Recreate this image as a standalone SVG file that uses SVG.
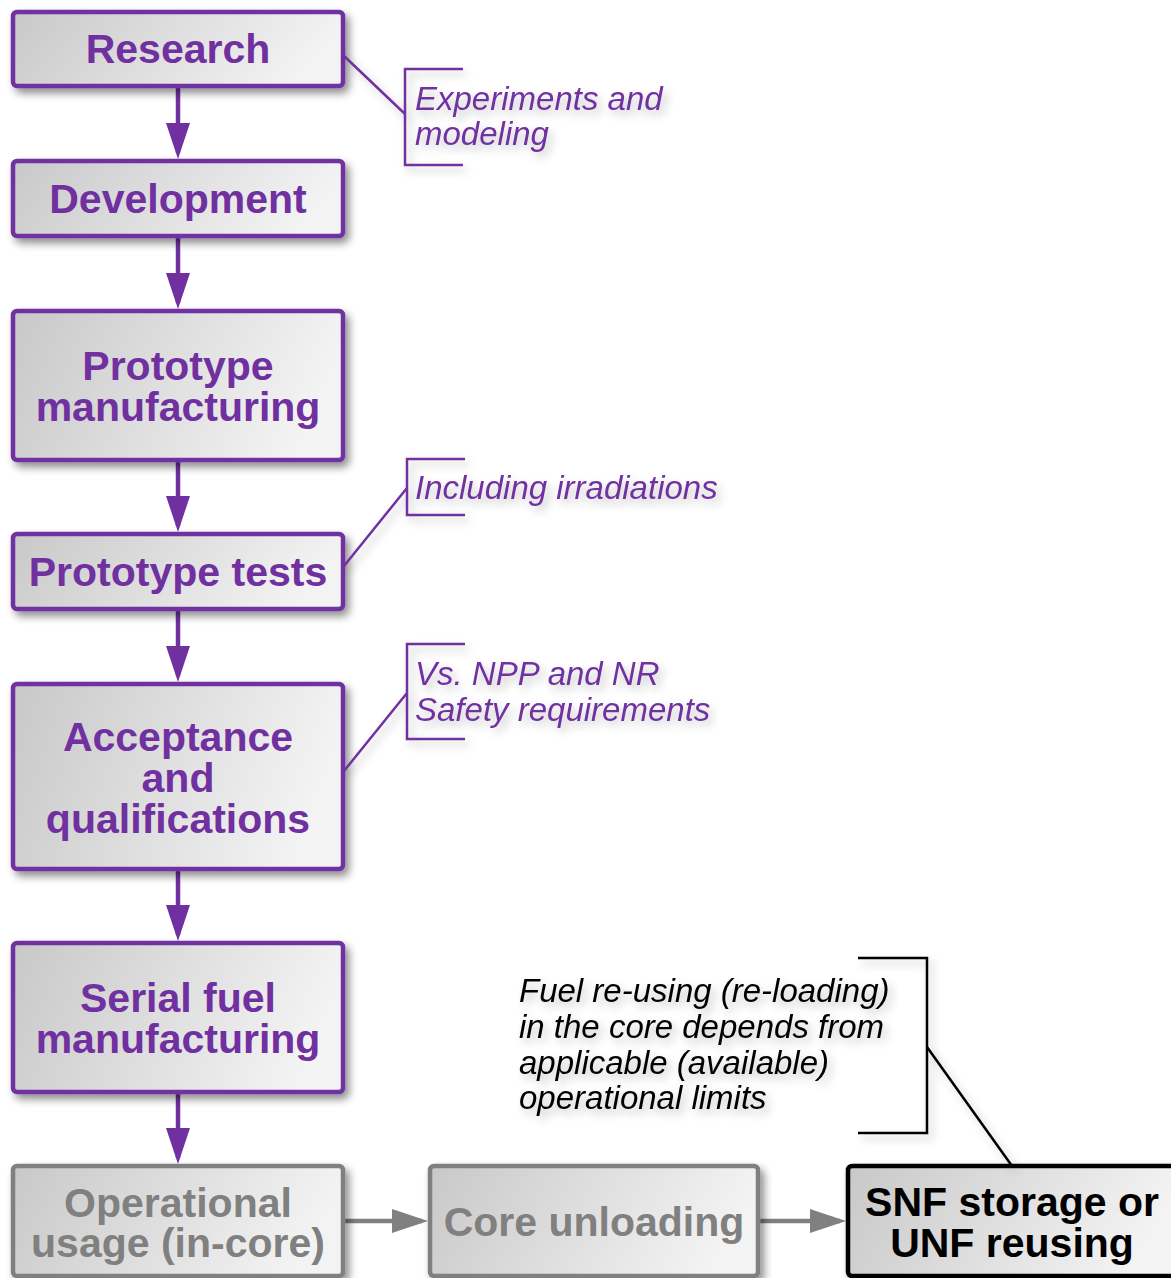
<svg xmlns="http://www.w3.org/2000/svg" width="1171" height="1278" viewBox="0 0 1171 1278">
<style>
.box{stroke-width:4.5;fill:url(#g);filter:url(#sh)}
.p{stroke:#7030a0}
.gr{stroke:#808080}
.bk{stroke:#000}
.t{font-family:"Liberation Sans",Arial,sans-serif;font-weight:bold;font-size:41px;text-anchor:middle}
.tp{fill:#7030a0}
.tg{fill:#808080}
.tb{fill:#000}
.n{font-family:"Liberation Sans",Arial,sans-serif;font-style:italic;font-size:33px}
.br{fill:none;stroke-width:2.5}
.ca{fill:none;stroke-width:4.5}
</style>
<defs>
<linearGradient id="g" x1="0" y1="0" x2="1" y2="0.2">
<stop offset="0" stop-color="#c8c8c8"/>
<stop offset="1" stop-color="#f3f3f3"/>
</linearGradient>
<filter id="sh" x="-10%" y="-20%" width="130%" height="150%">
<feGaussianBlur in="SourceAlpha" stdDeviation="4"/>
<feOffset dx="4" dy="5" result="b"/>
<feComponentTransfer><feFuncA type="linear" slope="0.45"/></feComponentTransfer>
<feMerge><feMergeNode/><feMergeNode in="SourceGraphic"/></feMerge>
</filter>
<filter id="sh2" x="-10%" y="-20%" width="130%" height="150%">
<feGaussianBlur in="SourceAlpha" stdDeviation="5"/>
<feOffset dx="4" dy="5" result="b"/>
<feComponentTransfer><feFuncA type="linear" slope="0.25"/></feComponentTransfer>
<feMerge><feMergeNode/><feMergeNode in="SourceGraphic"/></feMerge>
</filter>
<marker id="ap" markerUnits="userSpaceOnUse" viewBox="0 0 36 24" markerWidth="36" markerHeight="24" refX="30" refY="12" orient="auto">
<path d="M0,0 L36,12 L0,24 Z" fill="#7030a0"/>
</marker>
<marker id="ag" markerUnits="userSpaceOnUse" viewBox="0 0 36 24" markerWidth="36" markerHeight="24" refX="30" refY="12" orient="auto">
<path d="M0,0 L36,12 L0,24 Z" fill="#808080"/>
</marker>
</defs>
<rect width="1171" height="1278" fill="#fff"/>

<g id="connectors">
<line class="ca p" x1="178" y1="88" x2="178" y2="153" marker-end="url(#ap)"/>
<line class="ca p" x1="178" y1="238" x2="178" y2="303" marker-end="url(#ap)"/>
<line class="ca p" x1="178" y1="462" x2="178" y2="526" marker-end="url(#ap)"/>
<line class="ca p" x1="178" y1="611" x2="178" y2="676" marker-end="url(#ap)"/>
<line class="ca p" x1="178" y1="871" x2="178" y2="935" marker-end="url(#ap)"/>
<line class="ca p" x1="178" y1="1094" x2="178" y2="1158" marker-end="url(#ap)"/>
<line class="ca gr" x1="345" y1="1221" x2="422" y2="1221" marker-end="url(#ag)"/>
<line class="ca gr" x1="760" y1="1221" x2="840" y2="1221" marker-end="url(#ag)"/>
</g>

<g id="research">
<rect class="box p" x="13" y="12" width="330" height="74" rx="4"/>
<text class="t tp" x="178" y="63">Research</text>
</g>
<g id="development">
<rect class="box p" x="13" y="161" width="330" height="75" rx="4"/>
<text class="t tp" x="178" y="213">Development</text>
</g>
<g id="prototype-manufacturing">
<rect class="box p" x="13" y="311" width="330" height="149" rx="4"/>
<text class="t tp" x="178" y="380">Prototype</text>
<text class="t tp" x="178" y="421">manufacturing</text>
</g>
<g id="prototype-tests">
<rect class="box p" x="13" y="534" width="330" height="75" rx="4"/>
<text class="t tp" x="178" y="586">Prototype tests</text>
</g>
<g id="acceptance">
<rect class="box p" x="13" y="684" width="330" height="185" rx="4"/>
<text class="t tp" x="178" y="751">Acceptance</text>
<text class="t tp" x="178" y="792">and</text>
<text class="t tp" x="178" y="833">qualifications</text>
</g>
<g id="serial-fuel">
<rect class="box p" x="13" y="943" width="330" height="149" rx="4"/>
<text class="t tp" x="178" y="1012">Serial fuel</text>
<text class="t tp" x="178" y="1053">manufacturing</text>
</g>
<g id="operational-usage">
<rect class="box gr" x="13" y="1166" width="330" height="110" rx="4"/>
<text class="t tg" x="178" y="1217">Operational</text>
<text class="t tg" x="178" y="1257">usage (in-core)</text>
</g>
<g id="core-unloading">
<rect class="box gr" x="430" y="1166" width="328" height="110" rx="4"/>
<text class="t tg" x="594" y="1236">Core unloading</text>
</g>
<g id="snf-storage">
<rect class="box bk" x="848" y="1166" width="330" height="110" rx="4"/>
<text class="t tb" x="1012" y="1216">SNF storage or</text>
<text class="t tb" x="1012" y="1257">UNF reusing</text>
</g>

<g id="note-experiments" filter="url(#sh2)">
<line class="br p" x1="343" y1="55" x2="405" y2="114"/>
<path class="br p" d="M463,69 H405 V165 H463"/>
<text class="n tp" x="415" y="110">Experiments and</text>
<text class="n tp" x="415" y="145">modeling</text>
</g>
<g id="note-irradiations" filter="url(#sh2)">
<line class="br p" x1="344" y1="566" x2="407" y2="488"/>
<path class="br p" d="M465,459 H407 V515 H465"/>
<text class="n tp" x="415" y="499">Including irradiations</text>
</g>
<g id="note-safety" filter="url(#sh2)">
<line class="br p" x1="344" y1="771" x2="407" y2="693"/>
<path class="br p" d="M465,644 H407 V739 H465"/>
<text class="n tp" x="415" y="685">Vs. NPP and NR</text>
<text class="n tp" x="415" y="721">Safety requirements</text>
</g>
<g id="note-reusing" filter="url(#sh2)">
<line class="br bk" x1="927" y1="1047" x2="1012" y2="1166"/>
<path class="br bk" d="M858,958 H927 V1133 H858"/>
<text class="n tb" x="519" y="1002">Fuel re-using (re-loading)</text>
<text class="n tb" x="519" y="1038">in the core depends from</text>
<text class="n tb" x="519" y="1074">applicable (available)</text>
<text class="n tb" x="519" y="1109">operational limits</text>
</g>
</svg>
